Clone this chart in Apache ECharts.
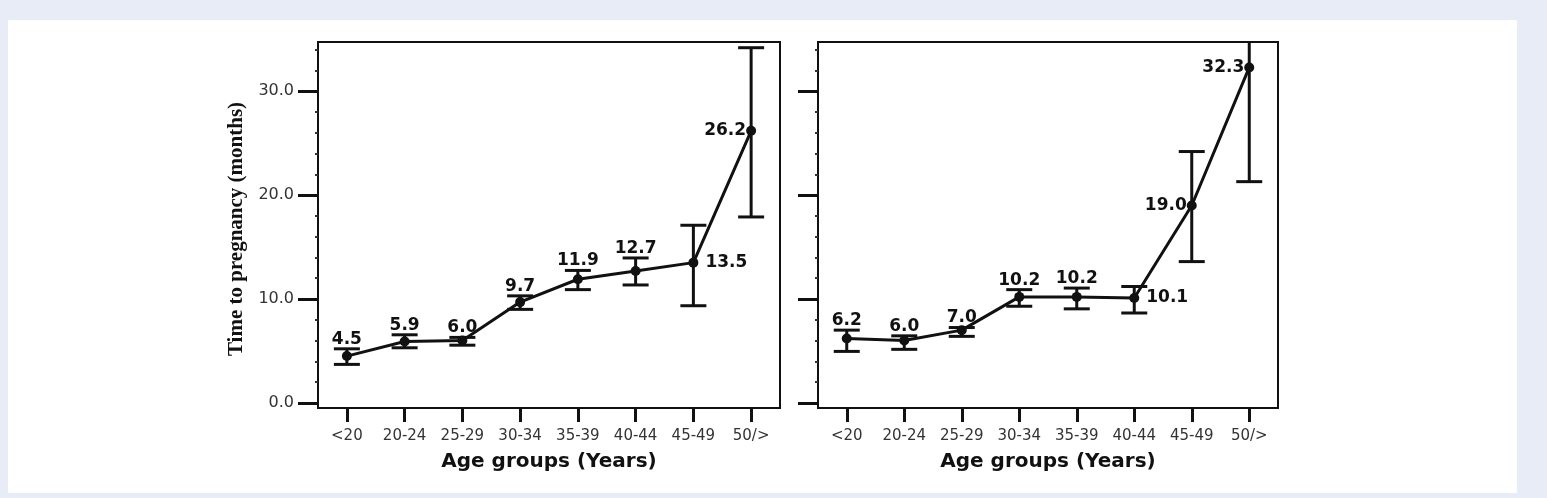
<!DOCTYPE html>
<html>
<head>
<meta charset="utf-8">
<script src="https://cdn.jsdelivr.net/npm/echarts@6/dist/echarts.min.js"></script>
<style>
html,body{margin:0;padding:0;background:#e8ecf6;width:1547px;height:498px;overflow:hidden;}
#bg{position:absolute;left:8px;top:20px;width:1509px;height:473px;background:#ffffff;}
#c{position:absolute;left:0;top:0;width:1547px;height:498px;}
</style>
</head>
<body>
<div id="bg"></div>
<div id="c"></div>
<script>
// ---- data ----
const categories = ['<20', '20-24', '25-29', '30-34', '35-39', '40-44', '45-49', '50/>'];

const leftMean  = [4.5, 5.9, 6.0, 9.7, 11.9, 12.7, 13.5, 26.2];
const leftLower = [3.7, 5.3, 5.55, 9.0, 10.9, 11.35, 9.35, 17.9];
const leftUpper = [5.2, 6.55, 6.3, 10.3, 12.75, 13.95, 17.1, 34.2];
const leftLabelPos = ['top', 'top', 'top', 'top', 'top', 'top', 'right', 'left'];

const rightMean  = [6.2, 6.0, 7.0, 10.2, 10.2, 10.1, 19.0, 32.3];
const rightLower = [4.95, 5.15, 6.4, 9.3, 9.05, 8.65, 13.6, 21.3];
const rightUpper = [7.0, 6.45, 7.25, 10.9, 11.05, 11.2, 24.2, 36.5];
const rightLabelPos = ['top', 'top', 'top', 'top', 'top', 'right', 'left', 'left'];

const yMajorTicks = [0, 10, 20, 30];
const yMinorTicks = [2, 4, 6, 8, 12, 14, 16, 18, 22, 24, 26, 28, 32, 34];
const yMin = -0.5, yMax = 34.75;

const yTitle = 'Time to pregnancy (months)';
const xTitle = 'Age groups (Years)';

// ---- chart ----
const chart = echarts.init(document.getElementById('c'), null, {renderer: 'canvas'});
const INK = '#111111';
const SANS = '"DejaVu Sans", Verdana, sans-serif';

function xAxisFor(gi) {
  return {
    type: 'category', gridIndex: gi, data: categories, boundaryGap: true, position: 'bottom',
    axisLine: {show: true, onZero: false, lineStyle: {color: INK, width: 2}},
    axisTick: {show: true, alignWithLabel: true, length: 14, lineStyle: {color: INK, width: 3}},
    axisLabel: {color: '#333', fontFamily: SANS, fontSize: 15, margin: 21},
    splitLine: {show: false},
    name: xTitle, nameLocation: 'middle', nameGap: 44,
    nameTextStyle: {color: INK, fontFamily: SANS, fontWeight: 'bold', fontSize: 20}
  };
}
function yAxisMajor(gi, showLabels) {
  return {
    type: 'value', gridIndex: gi, min: yMin, max: yMax, position: 'left',
    axisLine: {show: true, lineStyle: {color: INK, width: 2}},
    axisTick: {show: true, customValues: yMajorTicks, length: 20, lineStyle: {color: INK, width: 3}},
    axisLabel: {show: showLabels, customValues: yMajorTicks, color: '#333', fontFamily: SANS, fontSize: 16, margin: 24,
      formatter: v => Number(v).toFixed(1)},
    splitLine: {show: false}
  };
}
function yAxisMinor(gi) {
  return {
    type: 'value', gridIndex: gi, min: yMin, max: yMax, position: 'left', offset: 0,
    axisLine: {show: false},
    axisTick: {show: true, customValues: yMinorTicks, length: 3, lineStyle: {color: '#333', width: 2}},
    axisLabel: {show: false},
    splitLine: {show: false}
  };
}

function errSeries(xi, yi, lower, upper, mean, pos) {
  return {
    type: 'custom', xAxisIndex: xi, yAxisIndex: yi,
    data: categories.map((c, i) => [i, lower[i], upper[i], mean[i]]),
    z: 3,
    renderItem: function (params, api) {
      const i = api.value(0);
      const cs = params.coordSys;
      const x = api.coord([i, 0])[0];
      let yl = api.coord([i, api.value(1)])[1];
      let yh = api.coord([i, api.value(2)])[1];
      const ym = api.coord([i, api.value(3)])[1];
      const half = 13;
      const style = {stroke: INK, lineWidth: 3, fill: null};
      const children = [];
      const topClipped = yh < cs.y;
      if (topClipped) yh = cs.y;
      children.push({type: 'line', shape: {x1: x, y1: yl, x2: x, y2: yh}, style});
      children.push({type: 'line', shape: {x1: x - half, y1: yl, x2: x + half, y2: yl}, style});
      if (!topClipped) children.push({type: 'line', shape: {x1: x - half, y1: yh, x2: x + half, y2: yh}, style});
      const p = pos[params.dataIndex];
      const txt = Number(api.value(3)).toFixed(1);
      const font = 'bold 17px ' + SANS;
      if (p === 'top') {
        children.push({type: 'text', style: {text: txt, x: x, y: yh - 1, font, fill: INK, align: 'center', verticalAlign: 'bottom'}});
      } else if (p === 'right') {
        children.push({type: 'text', style: {text: txt, x: x + 12, y: ym, font, fill: INK, align: 'left', verticalAlign: 'middle'}});
      } else {
        children.push({type: 'text', style: {text: txt, x: x - 5, y: ym, font, fill: INK, align: 'right', verticalAlign: 'middle'}});
      }
      return {type: 'group', children};
    }
  };
}
function meanSeries(xi, yi, mean) {
  return {
    type: 'line', xAxisIndex: xi, yAxisIndex: yi, data: mean, z: 4,
    symbol: 'circle', symbolSize: 10,
    itemStyle: {color: INK},
    lineStyle: {color: INK, width: 3},
    label: {show: false}, animation: false
  };
}

chart.setOption({
  animation: false,
  backgroundColor: 'transparent',
  grid: [
    {left: 318, top: 42, width: 462, height: 366, show: true, borderColor: INK, borderWidth: 2, backgroundColor: 'transparent'},
    {left: 818, top: 42, width: 460, height: 366, show: true, borderColor: INK, borderWidth: 2, backgroundColor: 'transparent'}
  ],
  xAxis: [xAxisFor(0), xAxisFor(1)],
  yAxis: [yAxisMajor(0, true), yAxisMajor(1, false), yAxisMinor(0), yAxisMinor(1)],
  graphic: [{
    type: 'text', x: 237, y: 229, rotation: Math.PI / 2,
    style: {text: yTitle, font: 'bold 21px "Liberation Serif", "Times New Roman", serif', fill: INK, align: 'center', verticalAlign: 'middle'}
  }],
  series: [
    meanSeries(0, 0, leftMean),
    errSeries(0, 0, leftLower, leftUpper, leftMean, leftLabelPos),
    meanSeries(1, 1, rightMean),
    errSeries(1, 1, rightLower, rightUpper, rightMean, rightLabelPos)
  ]
});
</script>
</body>
</html>
